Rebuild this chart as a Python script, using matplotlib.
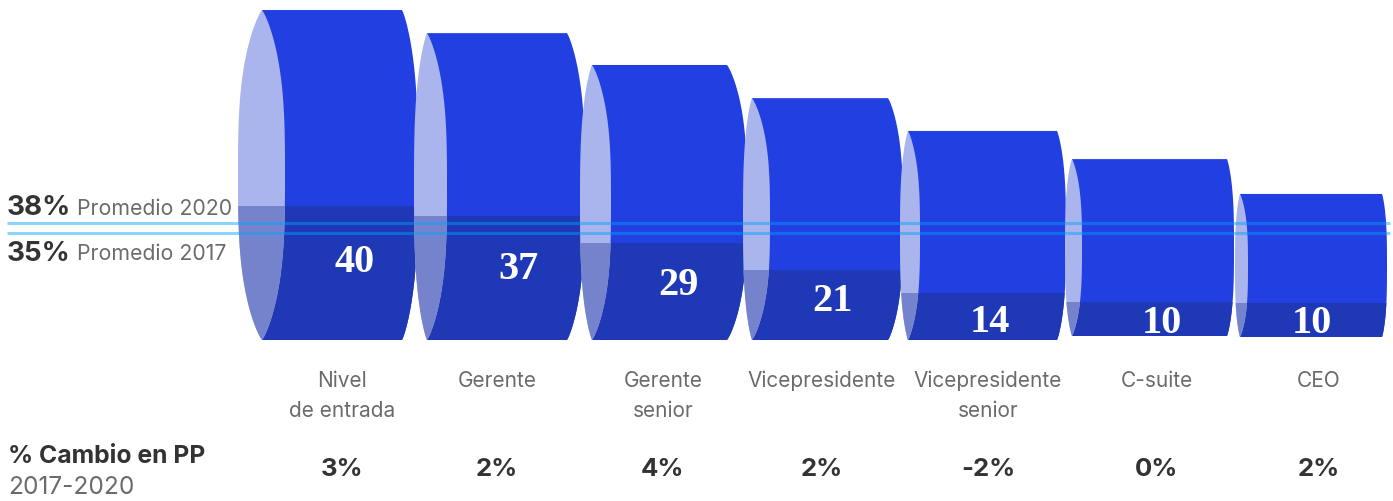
import numpy as np
import matplotlib
matplotlib.use("Agg")
import matplotlib.pyplot as plt
from matplotlib.patches import PathPatch, Rectangle
from matplotlib.path import Path

# ==================================
# Data
# ==================================
levels = [
    "Nivel\nde entrada",
    "Gerente",
    "Gerente\nsenior",
    "Vicepresidente",
    "Vicepresidente\nsenior",
    "C-suite",
    "CEO",
]
women_share = [40, 37, 29, 21, 14, 10, 10]
drum_heights = [98.5, 91.6, 82.1, 72.2, 62.4, 52.8, 42.7]
change_labels = ["3%", "2%", "4%", "2%", "-2%", "0%", "2%"]
avg_values = [38, 35]
avg_labels = ["Promedio 2020", "Promedio 2017"]

# ==================================
# Drum layout (figure pixels)
# ==================================
ell_left = [238, 414, 580, 743, 900, 1065, 1235]
ell_top = [262, 427, 592, 752, 908, 1072, 1240]
ell_right = [285, 447, 611, 770, 920, 1082, 1248]
body_right = [402, 567, 727, 888, 1057, 1227, 1382]
drum_right = [418, 585, 747, 903, 1066, 1234, 1387]
drum_lift = [0, 0, 0, 0, 0, 1.2, 0.9]
value_x = [355, 518, 678, 832, 990, 1162, 1312]
value_y = [260, 267, 283, 299, 320, 321, 321]
label_x = [342, 497, 663, 822, 988, 1157, 1319]

W, H = 1393, 502
BASE = 341

BODY = "#2240e2"
BODY_DARK = "#1f39b6"
SIDE = "#a9b5ec"
SIDE_DARK = "#7583cd"
GREY = "#6b6b6b"
INK = "#333333"

fig = plt.figure(figsize=(W / 100, H / 100), dpi=100)


def full_axes(ylim):
    a = fig.add_axes([0, 0, 1, 1])
    a.set_xlim(0, W)
    a.set_ylim(*ylim)
    a.axis("off")
    a.patch.set_alpha(0)
    return a


# drums use 3.35 px per unit, the average lines 3.07 px per unit
ax = full_axes(((BASE - H) / 3.35, BASE / 3.35))
ax_avg = full_axes(((BASE - H) / 3.07, BASE / 3.07))
ax_txt = full_axes((H, 0))

# ==================================
# Drums
# ==================================
t = np.linspace(1, -1, 121)
bulge = (1 - np.abs(t) ** 3) ** 0.85  # flat flanks, tight corners

for i in range(len(levels)):
    y0 = drum_lift[i]
    h = drum_heights[i]
    ys = y0 + h / 2 + t * h / 2
    top_x = ell_top[i]

    xs = body_right[i] + (drum_right[i] - body_right[i]) * bulge
    body = PathPatch(Path(np.c_[np.r_[top_x, xs, top_x], np.r_[y0 + h, ys, y0]]),
                     fc=BODY, ec="none", zorder=i * 2 + 1)
    ax.add_patch(body)
    shade = Rectangle((top_x, y0), drum_right[i] - top_x, women_share[i],
                      fc=BODY_DARK, ec="none", zorder=i * 2 + 1)
    ax.add_patch(shade)
    shade.set_clip_path(body)

    # side lens: outer edge going down, inner edge coming back up
    outer = top_x - (top_x - ell_left[i]) * bulge
    inner = top_x + (ell_right[i] - top_x) * bulge
    side = PathPatch(Path(np.c_[np.r_[outer, inner[::-1]], np.r_[ys, ys[::-1]]]),
                     fc=SIDE, ec="none", zorder=i * 2 + 2)
    ax.add_patch(side)
    side_shade = Rectangle((ell_left[i], y0), ell_right[i] - ell_left[i],
                           women_share[i], fc=SIDE_DARK, ec="none",
                           zorder=i * 2 + 2)
    ax.add_patch(side_shade)
    side_shade.set_clip_path(side)

# ==================================
# Average lines
# ==================================
for v in avg_values:
    ax_avg.plot([7, 1390], [v, v], color="#00a0ff", alpha=0.45, lw=2.2,
                solid_capstyle="butt")

# ==================================
# Text
# ==================================
SANS = "Inter"

ax_txt.text(7, 208, f"{avg_values[0]}%", fontsize=20, fontweight="bold",
            family=SANS, color=INK, ha="left", va="center")
ax_txt.text(77, 209, avg_labels[0], fontsize=15.3, family=SANS, color=GREY,
            ha="left", va="center")
ax_txt.text(7, 254, f"{avg_values[1]}%", fontsize=20, fontweight="bold",
            family=SANS, color=INK, ha="left", va="center")
ax_txt.text(77, 254, avg_labels[1], fontsize=15.3, family=SANS, color=GREY,
            ha="left", va="center")

for i, v in enumerate(women_share):
    ax_txt.text(value_x[i], value_y[i] + 3, str(v), fontsize=29,
                fontweight="bold", family="Liberation Serif", color="white",
                ha="center", va="center")

for i, name in enumerate(levels):
    ax_txt.text(label_x[i], 371, name, fontsize=15, family=SANS, color=GREY,
                ha="center", va="top", linespacing=1.6)
    ax_txt.text(label_x[i], 470, change_labels[i], fontsize=18.5,
                fontweight="bold", family=SANS, color=INK,
                ha="center", va="center")

ax_txt.text(8, 457, "% Cambio en PP", fontsize=17.8, fontweight="bold",
            family=SANS, color=INK, ha="left", va="center")
ax_txt.text(8, 488, "2017-2020", fontsize=17.6, family=SANS, color=GREY,
            ha="left", va="center")

fig.savefig("out.png", dpi=100, facecolor="white")
plt.close(fig)
